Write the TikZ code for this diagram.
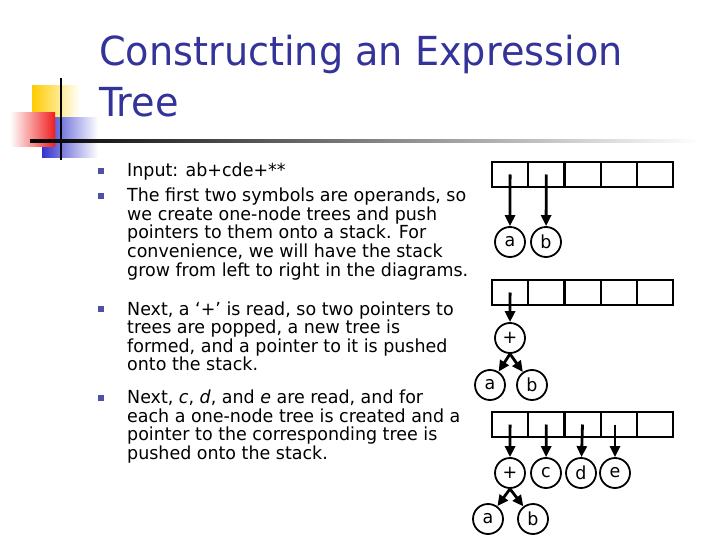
\documentclass[tikz,border=0pt]{standalone}
\usepackage{fontspec}
\setmainfont{DejaVu Sans}[FakeStretch=0.97]
\newfontfamily\titlefont{DejaVu Sans}[FakeStretch=0.955]
\usetikzlibrary{arrows.meta}

\begin{document}
\begin{tikzpicture}[x=1pt, y=-1pt, >={Triangle[length=11pt,width=10pt]},
    cell/.style={draw, line width=2.2pt, minimum width=36.2pt, minimum height=25pt, inner sep=0pt},
    tnode/.style={circle, draw, line width=1.8pt, minimum size=30pt, inner sep=0pt, font=\fontsize{18}{18}\selectfont},
    ptr/.style={->, line width=2.8pt},
    bodytext/.style={anchor=base west, align=left, inner sep=0pt, font=\fontsize{18}{18.5}\selectfont}]
    \definecolor{titleblue}{RGB}{51, 51, 153}   % Title
    \definecolor{bulletblue}{RGB}{80, 80, 170}  % Bullets
    \definecolor{logoyellow}{RGB}{255, 204, 0}
    \definecolor{logored}{RGB}{240, 30, 30}
    \definecolor{logoblue}{RGB}{51, 51, 204}

    \useasboundingbox (0,0) rectangle (720,540);

    % Logo
    \shade[left color=logoyellow, right color=white] (32,86) rectangle (80,131);
    \shade[left color=logoblue, right color=white] (42,118) rectangle (98,158);
    \shade[left color=white, right color=logored] (10,113) rectangle (55,147);
    \draw[line width=2pt] (61,78) -- (61,160);
    \shade[left color=black, middle color=gray!70, right color=white] (30,139.8) rectangle (700,142.6);

    % Title (base = last line)
    \node[anchor=base west, align=left, inner sep=0pt, text=titleblue,
          font=\titlefont\fontsize{40}{51}\selectfont] (title) at (99,117)
        {Constructing an Expression\\Tree};

    % Bullets
    \foreach \y in {171, 196, 309, 397.5}
        \fill[bulletblue] (98,\y-3) rectangle ++(6,6);

    % Text (base = last line)
    \node[bodytext] (input) at (127,177) {Input: ab+cde+**};
    \node[bodytext] (first) at (127,276) {The first two symbols are operands, so\\
        we create one-node trees and push\\
        pointers to them onto a stack. For\\
        convenience, we will have the stack\\
        grow from left to right in the diagrams.};
    \node[bodytext] (plus) at (127,370.5) {Next, a ‘+’ is read, so two pointers to\\
        trees are popped, a new tree is\\
        formed, and a pointer to it is pushed\\
        onto the stack.};
    \node[bodytext] (cde) at (127,459) {Next, \textit{c}, \textit{d}, and \textit{e} are read, and for\\
        each a one-node tree is created and a\\
        pointer to the corresponding tree is\\
        pushed onto the stack.};

    % Stacks
    \foreach \i in {1,...,5} {
        \node[cell] (sa\i) at ({492+36.2*(\i-0.5)},174.5) {};
        \node[cell] (sb\i) at ({492+36.2*(\i-0.5)},292.5) {};
        \node[cell] (sc\i) at ({492+36.2*(\i-0.5)},424.5) {};
    }

    % Trees after a, b
    \node[tnode] (a1) at (510,242) {a};
    \node[tnode] (b1) at (546,242) {b};
    \draw[ptr] (sa1.center) -- (a1);
    \draw[ptr] (sa2.center) -- (b1);

    % Tree after +
    \node[tnode] (p2) at (510,338) {+};
    \node[tnode] (a2) at (490,385) {a};
    \node[tnode] (b2) at (532,385) {b};
    \draw[ptr] (sb1.center) -- (p2);
    \draw[ptr] (p2.south) -- (a2);
    \draw[ptr] (p2.south) -- (b2);

    % Trees after c, d, e
    \node[tnode] (p3) at (510,473) {+};
    \node[tnode] (c3) at (546,473) {c};
    \node[tnode] (d3) at (581,473) {d};
    \node[tnode] (e3) at (615,473) {e};
    \node[tnode] (a3) at (488,519) {a};
    \node[tnode] (b3) at (533,519) {b};
    \draw[ptr] (sc1.center) -- (p3);
    \draw[ptr] (sc2.center) -- (c3);
    \draw[ptr] (sc3.center) -- (d3);
    \draw[ptr] (e3 |- sc4.center) -- (e3);
    \draw[ptr] (p3.south) -- (a3);
    \draw[ptr] (p3.south) -- (b3);
\end{tikzpicture}
\end{document}
